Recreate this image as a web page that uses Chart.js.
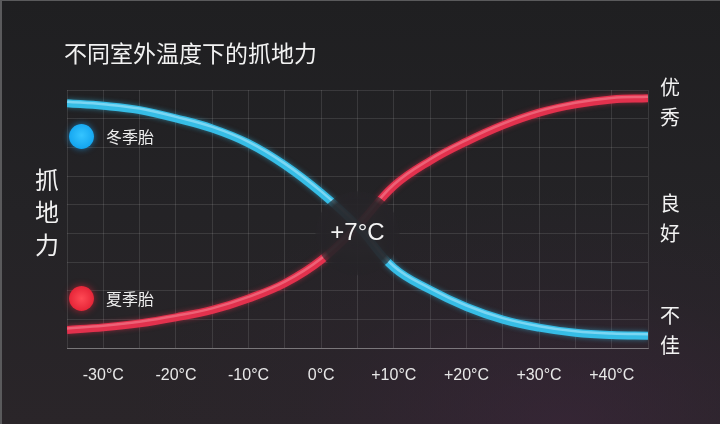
<!DOCTYPE html>
<html>
<head>
<meta charset="utf-8">
<script src="https://cdn.jsdelivr.net/npm/chart.js@4.4.0/dist/chart.umd.min.js"></script>
<style>
html, body { margin: 0; padding: 0; }
body {
    width: 720px; height: 424px; overflow: hidden; position: relative;
    background:
        radial-gradient(ellipse 60% 55% at 78% 100%, rgba(62, 38, 62, 0.55) 0%, rgba(50, 36, 52, 0.2) 60%, transparent 100%),
        linear-gradient(180deg, #1f1f21 0%, #242326 50%, #2a2529 100%);
    box-shadow: inset 2px 1px 0 #5a5a5c;
}
#tireChart { position: absolute; left: 0; top: 0; }
.title {
    position: absolute; left: 64px; top: 35px; line-height: 1;
    font: 23px "Noto Sans CJK SC"; color: #f2f2f2; white-space: nowrap;
}
.legend {
    position: absolute; left: 69px; height: 26px; display: flex; align-items: center;
    font: 16px "Noto Sans CJK SC"; color: #eeeeee; line-height: 1;
}
.legend .dot { width: 25px; height: 25px; border-radius: 50%; margin-right: 12px; }
</style>
</head>
<body>
<canvas id="tireChart" width="720" height="424"></canvas>
<div class="title" id="title"></div>
<div class="legend" id="legWinter" style="top:123px"><span class="dot" style="background:radial-gradient(circle at 50% 45%, #35c4ff 0%, #14a6f0 70%, #0f7cc0 100%);box-shadow:0 0 6px rgba(30,170,255,0.6)"></span><span class="txt"></span></div>
<div class="legend" id="legSummer" style="top:285px"><span class="dot" style="background:radial-gradient(circle at 50% 50%, #ff4a55 0%, #e8283a 65%, #b81d2e 100%);box-shadow:0 0 7px rgba(240,40,60,0.6)"></span><span class="txt"></span></div>
<script>
const chartTitle = '不同室外温度下的抓地力';
const seriesNames = ['冬季胎', '夏季胎'];
const temps = [-35, -30, -25, -20, -15, -10, -5, 0, 5, 10, 15, 20, 25, 30, 35, 40, 45];
const winterGrip = [85.4, 84.5, 83.0, 80.1, 76.6, 71.4, 63.8, 54.1, 42.5, 28, 20.3, 14.3, 9.9, 7.1, 5.3, 4.5, 4.3];
const summerGrip = [6.3, 7.2, 8.6, 10.7, 13.3, 17.3, 22.6, 30.7, 42.5, 56.5, 65.3, 72, 77.7, 82.1, 85, 86.7, 87.1];
const tempTicks = [-30, -20, -10, 0, 10, 20, 30, 40];
const gripAxisTitle = '抓地力';
const gripLevels = ['优秀', '良好', '不佳'];
const gripLevelValues = [85.5, 45.3, 6.3];
const markLabel = '+7°C';
const markTemp = 5;
const markGrip = 40;

document.getElementById('title').textContent = chartTitle;
document.querySelector('#legWinter .txt').textContent = seriesNames[0];
document.querySelector('#legSummer .txt').textContent = seriesNames[1];

const gridColor = 'rgba(255, 255, 255, 0.11)';
const highlight = ['rgba(190, 240, 255, 0.5)', 'rgba(255, 170, 180, 0.4)'];

// soft glow + light streak on each curve
const glowPlugin = {
    id: 'glow',
    beforeDatasetDraw(chart, args) {
        const ctx = chart.ctx;
        ctx.save();
        ctx.shadowColor = args.meta.dataset.options.borderColor + '88';
        ctx.shadowBlur = 5;
    },
    afterDatasetDraw(chart, args) {
        const ctx = chart.ctx;
        ctx.restore();
        const line = args.meta.dataset;
        const opts = line.options;
        const w = opts.borderWidth, c = opts.borderColor;
        ctx.save();
        ctx.translate(0, -1.5);
        opts.borderWidth = 2.5;
        opts.borderColor = highlight[args.index];
        line.draw(ctx, chart.chartArea);
        opts.borderWidth = w;
        opts.borderColor = c;
        ctx.restore();
    }
};

// dark disc with the crossing label
const markPlugin = {
    id: 'mark',
    afterDatasetsDraw(chart) {
        const ctx = chart.ctx;
        const cx = chart.scales.x.getPixelForValue(markTemp);
        const cy = chart.scales.y.getPixelForValue(markGrip);
        ctx.save();
        const g = ctx.createRadialGradient(cx, cy, 0, cx, cy, 42);
        g.addColorStop(0, 'rgba(40, 38, 42, 0.97)');
        g.addColorStop(0.85, 'rgba(38, 36, 40, 0.92)');
        g.addColorStop(1, 'rgba(38, 36, 40, 0.65)');
        ctx.fillStyle = g;
        ctx.beginPath();
        ctx.arc(cx, cy, 42, 0, Math.PI * 2);
        ctx.fill();
        ctx.fillStyle = '#f4f4f4';
        ctx.font = '24px "Liberation Sans"';
        ctx.textAlign = 'center';
        ctx.textBaseline = 'middle';
        ctx.fillText(markLabel, cx, cy);
        ctx.restore();
    }
};

const fixSize = (w, h) => axis => {
    if (w !== null) axis.width = w;
    if (h !== null) axis.height = h;
    axis.paddingTop = 0;
    axis.paddingBottom = 0;
    axis.paddingLeft = 0;
    axis.paddingRight = 0;
};

const ctx = document.getElementById('tireChart').getContext('2d');
new Chart(ctx, {
    type: 'line',
    data: {
        datasets: [{
            label: seriesNames[0],
            data: temps.map((t, i) => ({ x: t, y: winterGrip[i] })),
            borderColor: '#36bde6',
            borderWidth: 8,
            borderCapStyle: 'butt',
            tension: 0.4,
            pointRadius: 0,
            fill: false
        }, {
            label: seriesNames[1],
            data: temps.map((t, i) => ({ x: t, y: summerGrip[i] })),
            borderColor: '#e2314d',
            borderWidth: 8,
            borderCapStyle: 'butt',
            tension: 0.4,
            pointRadius: 0,
            fill: false
        }]
    },
    options: {
        responsive: false,
        animation: false,
        layout: { padding: { left: 35, right: 40, top: 90, bottom: 0 } },
        plugins: {
            legend: { display: false },
            tooltip: { enabled: false }
        },
        scales: {
            x: {
                type: 'linear',
                min: -35,
                max: 45,
                afterFit: fixSize(null, 76),
                grid: { color: gridColor, drawTicks: false },
                border: { color: 'rgba(255, 255, 255, 0.3)' },
                ticks: {
                    stepSize: 5,
                    autoSkip: false,
                    maxRotation: 0,
                    padding: 18,
                    color: '#e8e8e8',
                    font: { family: '"Liberation Sans"', size: 16 },
                    callback: v => tempTicks.includes(v) ? (v > 0 ? '+' : '') + v + '°C' : ''
                }
            },
            y: {
                position: 'left',
                min: 0,
                max: 90,
                afterFit: fixSize(0, null),
                grid: { color: gridColor, drawTicks: false },
                border: { display: false },
                ticks: { stepSize: 10, display: false }
            },
            yName: {
                position: 'left',
                min: 0,
                max: 90,
                afterFit: fixSize(32, null),
                grid: { display: false, drawTicks: false },
                border: { display: false },
                afterBuildTicks: axis => { axis.ticks = [{ value: 47.4 }]; },
                ticks: {
                    padding: 8,
                    color: '#f2f2f2',
                    font: { family: '"Noto Sans CJK SC"', size: 24, lineHeight: 1.35 },
                    callback: () => Array.from(gripAxisTitle)
                }
            },
            yLevel: {
                position: 'right',
                min: 0,
                max: 90,
                afterFit: fixSize(32, null),
                grid: { display: false, drawTicks: false },
                border: { display: false },
                afterBuildTicks: axis => { axis.ticks = gripLevelValues.map(v => ({ value: v })); },
                ticks: {
                    padding: 12,
                    color: '#f2f2f2',
                    font: { family: '"Noto Sans CJK SC"', size: 20, lineHeight: 1.5 },
                    callback: (v, i) => Array.from(gripLevels[i])
                }
            }
        }
    },
    plugins: [glowPlugin, markPlugin]
});
</script>
</body>
</html>
